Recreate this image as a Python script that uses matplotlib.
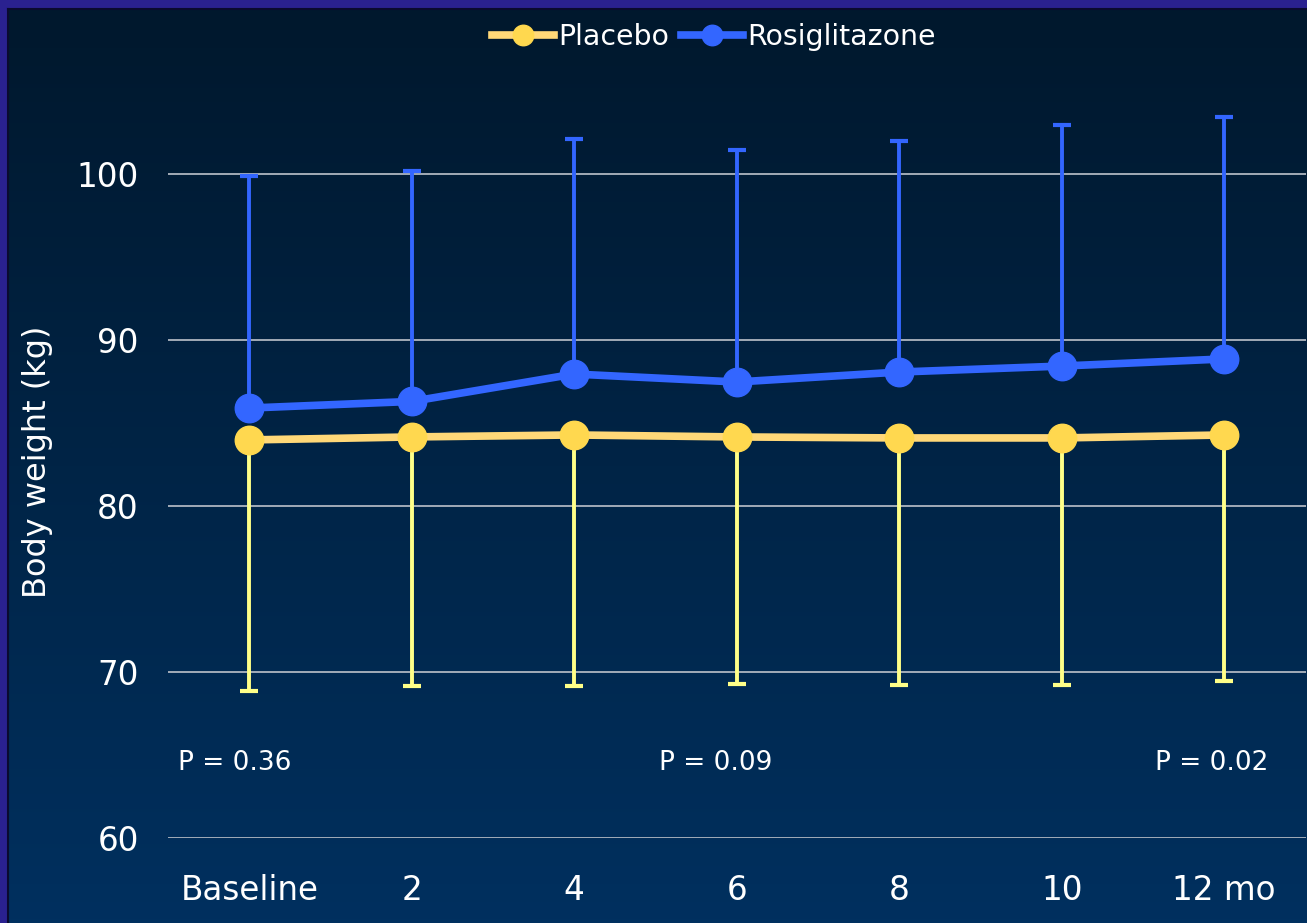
import numpy as np
import matplotlib
matplotlib.use("Agg")
import matplotlib.pyplot as plt
from matplotlib.colors import LinearSegmentedColormap

# Data
timepoints = ["Baseline", "2", "4", "6", "8", "10", "12 mo"]
placebo_mean = [83.98, 84.16, 84.28, 84.16, 84.10, 84.10, 84.28]
placebo_sd = [15.1, 15.0, 15.1, 14.9, 14.9, 14.9, 14.8]
rosi_mean = [85.90, 86.30, 87.95, 87.47, 88.07, 88.43, 88.86]
rosi_sd = [14.0, 13.9, 14.15, 14.0, 13.9, 14.5, 14.6]
p_labels = ["P = 0.36", "P = 0.09", "P = 0.02"]
p_x = [-0.09, 2.87, 5.92]
yticks = [60, 70, 80, 90, 100]

W, H = 1307, 923
fig = plt.figure(figsize=(W / 100, H / 100), dpi=100)
fig.patch.set_facecolor("#2a2190")

# Gradient panel
bg = fig.add_axes([8 / W, 0, 1 - 8 / W, 1 - 9 / H])
bg.set_axis_off()
grad_cmap = LinearSegmentedColormap.from_list("panel", ["#00182d", "#00305f"])
bg.imshow(np.linspace(0, 1, 256).reshape(-1, 1), aspect="auto", cmap=grad_cmap,
          extent=[0, 1, 0, 1], origin="upper")
bg.set_xlim(0, 1)
bg.set_ylim(0, 1)
bg.plot([0, 0], [0, 1], color="#0a0a30", lw=1.5, transform=bg.transAxes, clip_on=False)
bg.plot([0, 1], [1, 1], color="#0a0a30", lw=1.5, transform=bg.transAxes, clip_on=False)

# Main axes
ax_left, ax_right = 168, 1305.5
ax_bottom_px, px_per_unit = 838, 16.6
ymin, ymax = 60, 106
ax_top_px = ax_bottom_px - (ymax - ymin) * px_per_unit
ax = fig.add_axes([ax_left / W, (H - ax_bottom_px) / H,
                   (ax_right - ax_left) / W, (ax_bottom_px - ax_top_px) / H])
ax.set_facecolor("none")

x = np.arange(len(timepoints))
ax.set_xlim(-0.5, len(timepoints) - 0.5)
ax.set_ylim(ymin, ymax)

for yv in yticks:
    ax.axhline(yv, color="#aeb6c0", lw=1.3, zorder=1)

zeros = np.zeros(len(x))
blue = "#3366ff"
ax.errorbar(x, rosi_mean, yerr=[zeros, rosi_sd], fmt="none", ecolor=blue,
            elinewidth=2.8, capsize=6.5, capthick=3, zorder=2)
ax.errorbar(x, placebo_mean, yerr=[placebo_sd, zeros], fmt="none", ecolor="#ffff88",
            elinewidth=2.8, capsize=6.5, capthick=3, zorder=2)

ax.plot(x, placebo_mean, color="#ffd878", lw=5.5, marker="o", ms=20.5,
        mfc="#ffd84f", mec="#ffd84f", zorder=3, label="Placebo")
ax.plot(x, rosi_mean, color=blue, lw=5.5, marker="o", ms=20.5,
        mfc=blue, mec=blue, zorder=4, label="Rosiglitazone")

for lbl, px in zip(p_labels, p_x):
    ax.text(px, 64.5, lbl, color="white", fontsize=19, ha="center", va="center")

ax.set_xticks(x)
ax.set_xticklabels(timepoints)
ax.set_yticks(yticks)
ax.tick_params(axis="both", length=0, colors="white", labelsize=23.5)
ax.tick_params(axis="x", pad=26)
ax.tick_params(axis="y", pad=21)
for s in ax.spines.values():
    s.set_visible(False)

fig.text(38 / W, 1 - 462 / H, "Body weight (kg)", rotation=90, color="white",
         fontsize=23, ha="center", va="center")

leg = fig.legend(loc="center", bbox_to_anchor=(714 / W, 1 - 37 / H), ncol=2,
                 frameon=False, fontsize=20.4, handlelength=2.2, handletextpad=0.15,
                 columnspacing=0.4, markerscale=0.72)
for t in leg.get_texts():
    t.set_color("white")

fig.savefig("out.png", dpi=100, facecolor=fig.get_facecolor())
